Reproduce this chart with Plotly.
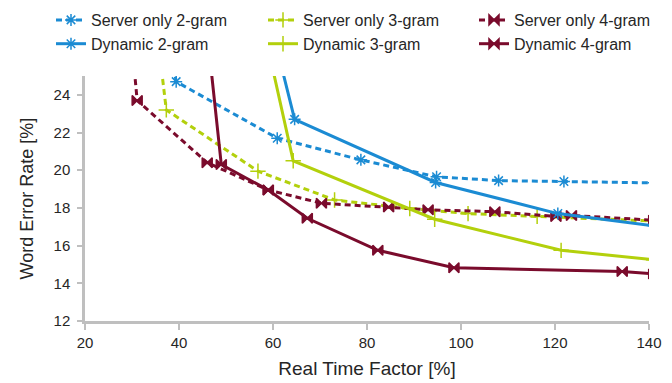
import plotly.graph_objects as go

# Real time factor [%] (x) and word error rate [%] (y) per series
srv2_x = [38.5, 39.4, 60.9, 78.7, 94.8, 108.0, 121.9, 141.0]
srv2_y = [26.0, 24.7, 21.7, 20.55, 19.65, 19.45, 19.4, 19.33]

srv3_x = [35.0, 37.3, 56.8, 73.1, 89.1, 101.5, 116.2, 141.0]
srv3_y = [28.0, 23.2, 19.95, 18.42, 17.97, 17.7, 17.55, 17.3]

srv4_x = [29.5, 31.1, 46.0, 59.0, 70.3, 84.6, 93.0, 107.2, 120.2, 123.5, 141.0]
srv4_y = [28.0, 23.7, 20.4, 18.95, 18.25, 18.05, 17.9, 17.8, 17.55, 17.6, 17.35]

dyn2_x = [59.3, 64.6, 94.6, 120.6, 141.0]
dyn2_y = [28.0, 22.7, 19.35, 17.7, 17.05]

dyn3_x = [57.6, 64.3, 94.4, 121.3, 141.0]
dyn3_y = [28.0, 20.5, 17.4, 15.75, 15.25]

dyn4_x = [45.7, 49.0, 59.0, 67.3, 82.3, 98.5, 134.3, 141.0]
dyn4_y = [28.0, 20.3, 18.95, 17.45, 15.75, 14.83, 14.63, 14.5]

x_ticks = [20, 40, 60, 80, 100, 120, 140]
y_ticks = [12, 14, 16, 18, 20, 22, 24]

X_TITLE = "Real Time Factor [%]"
Y_TITLE = "Word Error Rate [%]"

BLUE = "#1b8bd3"
GREEN = "#b3d00c"
RED = "#7a0b2c"

# (name, x, y, colour, dash, marker, size, legend column)
series = [
    ("Server only 2-gram", srv2_x, srv2_y, BLUE, "6px,4px", "asterisk-open", 10, "legend"),
    ("Server only 3-gram", srv3_x, srv3_y, GREEN, "6px,4px", "cross-thin-open", 11, "legend2"),
    ("Server only 4-gram", srv4_x, srv4_y, RED, "6px,4px", "bowtie", 10, "legend3"),
    ("Dynamic 2-gram", dyn2_x, dyn2_y, BLUE, "solid", "asterisk-open", 10, "legend"),
    ("Dynamic 3-gram", dyn3_x, dyn3_y, GREEN, "solid", "cross-thin-open", 11, "legend2"),
    ("Dynamic 4-gram", dyn4_x, dyn4_y, RED, "solid", "bowtie", 10, "legend3"),
]

fig = go.Figure()
for name, xs, ys, col, dash, sym, ms, lg in series:
    fig.add_trace(go.Scatter(
        x=xs, y=ys, name=name, mode="lines+markers", legend=lg,
        line=dict(color=col, width=3, dash=dash),
        marker=dict(symbol=sym, size=ms, color=col,
                    line=dict(color=col, width=1.5)),
    ))

FONT = "Liberation Sans, Arial, sans-serif"


def legend_at(px):
    return dict(orientation="v", xref="container", yref="paper",
                x=px / 672, y=1 + (68 + 5) / 245, xanchor="left", yanchor="top",
                font=dict(size=16, family=FONT, color="#262626"),
                itemwidth=30, tracegroupgap=0, bgcolor="rgba(0,0,0,0)")


fig.update_layout(
    width=672, height=383,
    margin=dict(l=77, r=31, t=68, b=70, autoexpand=False),
    paper_bgcolor="white", plot_bgcolor="white",
    font=dict(family=FONT, color="#262626", size=15),
    legend=legend_at(43),
    legend2=legend_at(255),
    legend3=legend_at(466),
    showlegend=True,
    annotations=[dict(
        text=Y_TITLE, textangle=-90, xref="paper", yref="paper",
        x=(18 - 77) / 564, y=0.5, xanchor="center", yanchor="middle",
        showarrow=False, font=dict(size=18, family=FONT, color="#262626"),
    )],
)
fig.update_xaxes(
    range=[20, 140], tickvals=x_ticks, ticktext=[str(v) for v in x_ticks],
    showgrid=False, zeroline=False, showline=True, linecolor="#bfbfbf", linewidth=2.5,
    ticks="outside", ticklen=6, tickwidth=2, tickcolor="#bfbfbf",
    tickfont=dict(size=15),
    title=dict(text=X_TITLE, font=dict(size=19), standoff=12),
)
fig.update_yaxes(
    range=[12, 25], tickvals=y_ticks, ticktext=[str(v) for v in y_ticks],
    showgrid=False, zeroline=False, showline=True, linecolor="#bfbfbf", linewidth=2.5,
    ticks="outside", ticklen=5, tickwidth=2, tickcolor="#bfbfbf",
    tickfont=dict(size=15), ticklabelstandoff=4,
)

fig.write_html("out.html")
